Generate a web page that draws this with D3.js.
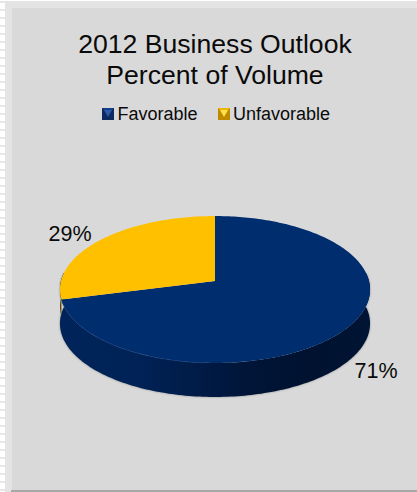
<!DOCTYPE html>
<html>
<head>
<meta charset="utf-8">
<script src="https://cdn.jsdelivr.net/npm/d3@7"></script>
<style>
  html, body { margin: 0; padding: 0; background: #fff; }
  svg { display: block; }
  text { font-family: "Liberation Sans", Arial, sans-serif; fill: #0a0a0a; }
</style>
</head>
<body>
<svg id="chart" width="417" height="492"></svg>
<script>
const titleLines = ["2012 Business Outlook", "Percent of Volume"];
const categories = ["Favorable", "Unfavorable"];
const shares = [71, 29];
const topColors = ["#002d6e", "#ffc000"];

const svg = d3.select("#chart");
const defs = svg.append("defs");
const W = 417, H = 492;

// Panel and its bevelled frame
svg.append("rect").attr("width", W).attr("height", H).attr("fill", "#ffffff");
svg.append("rect").attr("x", 5).attr("y", 1).attr("width", W - 5).attr("height", H - 1).attr("fill", "#e4e4e4");
svg.append("g").selectAll("rect").data(d3.range(0, 62)).join("rect")
  .attr("x", 0).attr("y", i => i * 8 + 1).attr("width", 5).attr("height", 2).attr("fill", "#e6e6e6");
svg.append("rect").attr("x", 12).attr("y", 8).attr("width", W - 12).attr("height", H - 10).attr("fill", "#d9d9d9");
svg.append("rect").attr("x", 11).attr("y", 490).attr("width", W - 11).attr("height", 2).attr("fill", "#a8a8a8");

// Title
svg.append("g").selectAll("text").data(titleLines).join("text")
  .attr("x", 215).attr("y", (d, i) => 53 + i * 30.5)
  .attr("text-anchor", "middle").attr("font-size", 26.6).text(d => d);

// Legend with small bevelled keys
const legendKeys = [
  { x: 102, light: "#2a5aa8", dark: "#0c2a60", mid: "#153f86" },
  { x: 218, light: "#ffe24a", dark: "#c08a00", mid: "#f2b600" }
];
const legendText = [117.5, 233];
const legend = svg.append("g").selectAll("g").data(categories).join("g");
legend.each(function (d, i) {
  const g = d3.select(this), k = legendKeys[i], s = 12, y = 108;
  g.append("rect").attr("x", k.x).attr("y", y).attr("width", s).attr("height", s).attr("fill", k.dark);
  g.append("path").attr("d", `M${k.x},${y}h${s}l-3,3h-${s - 6}z`).attr("fill", k.mid);
  g.append("path").attr("d", `M${k.x + 2},${y + 2}h${s - 4}l-${(s - 4) / 2},${s - 5}z`).attr("fill", k.light);
  g.append("text").attr("x", legendText[i]).attr("y", 120).attr("font-size", 18).text(d);
});

// Perspective projection of the unit disc onto the page
const cx = 215, scaleX = 154, persp = 0.1156, depth = 34;
const scaleY = d3.scaleLinear().domain([0, 1]).range([281, 321]);
const project = (angle, r = 1) => {
  const u = r * Math.sin(angle), v = -r * Math.cos(angle), w = 1 - persp * v;
  return [cx + scaleX * u / w, scaleY(v) / w];
};
const line = d3.line();
const arcAngles = (a0, a1) => {
  const n = Math.max(2, Math.ceil(Math.abs(a1 - a0) / 0.02));
  return d3.range(n + 1).map(i => a0 + (a1 - a0) * i / n);
};

// Slices run clockwise from twelve o'clock
const slices = d3.pie().sort(null)(shares);

// Soft edge under the rim
defs.append("filter").attr("id", "rimBlur").attr("x", "-5%").attr("y", "-5%").attr("width", "110%").attr("height", "110%")
  .append("feGaussianBlur").attr("stdDeviation", 1);

const sideBlue = defs.append("linearGradient").attr("id", "sideBlue")
  .attr("gradientUnits", "userSpaceOnUse").attr("x1", 60).attr("x2", 370).attr("y1", 0).attr("y2", 0);
[[0, "#00245a"], [0.25, "#002256"], [0.45, "#001b46"], [0.6, "#001538"], [0.8, "#001230"], [1, "#001433"]]
  .forEach(([o, c]) => sideBlue.append("stop").attr("offset", o).attr("stop-color", c));

const frontStart = Math.PI / 2 - Math.asin(persp), frontEnd = 3 * Math.PI / 2 + Math.asin(persp);
const rimPoints = arcAngles(frontStart, frontEnd).map(a => project(a));
const sideOutline = rimPoints.concat(rimPoints.slice().reverse().map(([x, y]) => [x, y + depth]));

svg.append("path").attr("d", line(sideOutline) + "Z")
  .attr("fill", "#8a8d93").attr("filter", "url(#rimBlur)");
svg.append("path").attr("d", line(sideOutline) + "Z").attr("fill", "url(#sideBlue)");

// Thin sliver of the amber slice's side at the far left
const amberSide = arcAngles(slices[1].startAngle, frontEnd).map(a => project(a));
svg.append("path")
  .attr("d", line(amberSide.concat(amberSide.slice().reverse().map(([x, y]) => [x, y + depth * 0.5]))) + "Z")
  .attr("fill", "#5c4a12");

// Top faces
svg.append("g").selectAll("path").data(slices).join("path")
  .attr("d", d => line([project(0, 0), ...arcAngles(d.startAngle, d.endAngle).map(a => project(a))]) + "Z")
  .attr("fill", (d, i) => topColors[i]);

// Highlight along the front edge of the top face
const frontLip = arcAngles(Math.PI * 1.02, slices[1].startAngle - 0.02).map(a => project(a));
svg.append("path").attr("d", line(frontLip)).attr("fill", "none")
  .attr("stroke", "#1a3f7e").attr("stroke-width", 0.7);

// Percentage labels
const labelPos = [[376, 378], [70, 241]];
svg.append("g").selectAll("text").data(shares).join("text")
  .attr("x", (d, i) => labelPos[i][0]).attr("y", (d, i) => labelPos[i][1])
  .attr("text-anchor", "middle")
  .attr("font-size", 21.5).text(d => d + "%");
</script>
</body>
</html>
